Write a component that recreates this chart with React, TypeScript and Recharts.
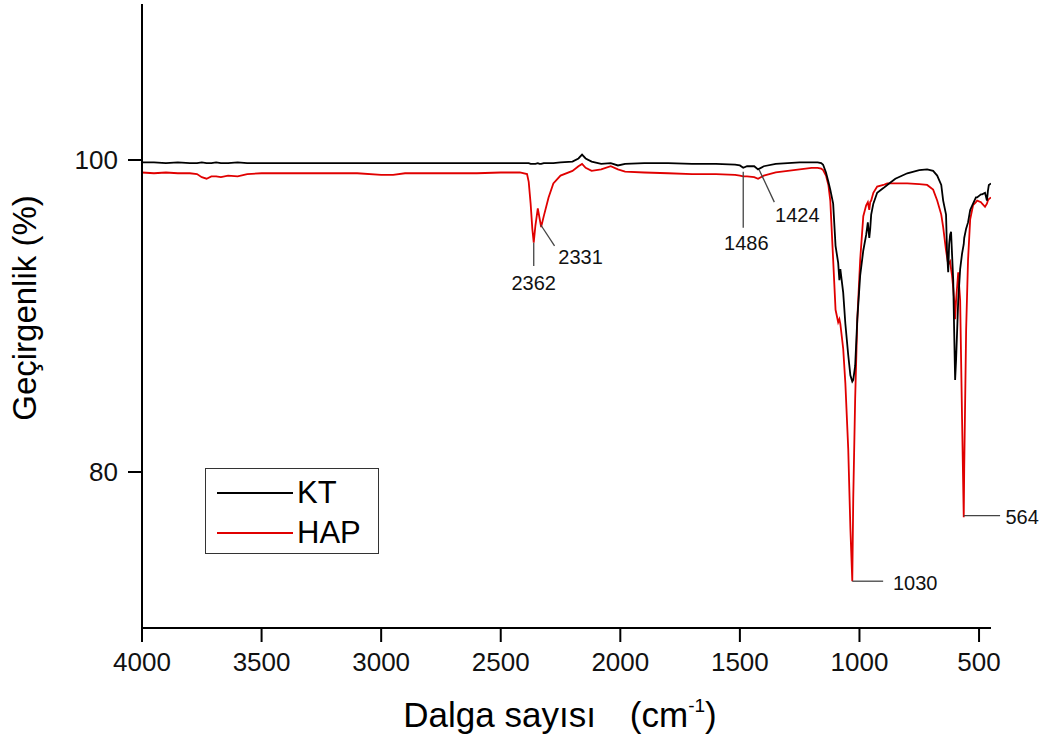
import { LineChart, Line, XAxis, YAxis, ReferenceLine, ReferenceDot } from 'recharts';

// wavenumber (cm-1)
const wavenumbers = [
    4000, 3950, 3900, 3850, 3800, 3770, 3750, 3730, 3710, 3690,
    3670, 3640, 3600, 3560, 3500, 3400, 3300, 3200, 3100, 3000,
    2950, 2900, 2800, 2700, 2600, 2500, 2420, 2390, 2383, 2375,
    2368, 2362, 2355, 2345, 2338, 2331, 2320, 2300, 2280, 2250,
    2200, 2175, 2160, 2145, 2120, 2080, 2040, 2010, 1980, 1900,
    1800, 1700, 1600, 1520, 1500, 1486, 1470, 1440, 1424, 1400,
    1350, 1300, 1250, 1200, 1175,
    1160, 1152, 1140, 1130, 1122, 1110, 1100, 1089, 1084, 1080,
    1068, 1059, 1047, 1038, 1030, 1026, 1018, 1009, 997, 984,
    972, 965, 959, 955, 951, 942, 926, 900, 884, 850,
    800, 750, 717, 692, 675, 658, 650, 638, 634, 629,
    625, 621, 617, 613, 608, 604, 600, 596, 587, 579,
    571, 564, 562, 554, 546, 537, 525, 513, 508, 492,
    487, 475, 467, 463, 459, 450,
];

const ktValues = [
    99.85, 99.85, 99.8, 99.85, 99.8, 99.8, 99.85, 99.8, 99.8, 99.85,
    99.8, 99.8, 99.85, 99.8, 99.8, 99.8, 99.8, 99.8, 99.8, 99.8,
    99.8, 99.8, 99.8, 99.8, 99.8, 99.8, 99.8, 99.8, 99.8, 99.75,
    99.75, 99.75, 99.75, 99.8, 99.75, 99.75, 99.8, 99.8, 99.8, 99.85,
    99.9, 100.1, 100.35, 100.1, 99.9, 99.75, 99.8, 99.65, 99.75, 99.8,
    99.8, 99.75, 99.75, 99.7, 99.65, 99.5, 99.6, 99.6, 99.4, 99.6,
    99.75, 99.8, 99.85, 99.85, 99.85,
    99.8, 99.7, 99.2, 98.6, 98.1, 97.2, 94.5, 93.4, 92.3, 93.0,
    91.5, 89.5, 87.5, 86.2, 85.8, 85.9, 86.8, 89.8, 92.6, 94.2,
    95.2, 96.0, 95.0, 95.6, 96.5, 97.2, 97.9, 98.2, 98.4, 98.8,
    99.15, 99.35, 99.4, 99.3, 99.0, 98.4, 97.4, 96.5, 94.2, 92.8,
    94.6, 95.2, 95.4, 94.0, 92.3, 89.0, 85.9, 87.2, 91.0, 93.0,
    94.0, 94.6, 95.0, 95.6, 96.0, 96.8, 97.2, 97.6, 97.6, 97.8,
    97.8, 97.9, 97.4, 98.0, 98.4, 98.5,
];

const hapValues = [
    99.2, 99.15, 99.2, 99.15, 99.15, 99.1, 98.9, 98.8, 98.95, 98.95,
    98.9, 99.0, 98.95, 99.1, 99.15, 99.15, 99.15, 99.15, 99.15, 99.05,
    99.05, 99.15, 99.15, 99.15, 99.15, 99.2, 99.2, 99.1, 98.6, 97.2,
    95.6, 94.7, 95.8, 96.9, 96.3, 95.7, 96.4, 97.6, 98.5, 99.0,
    99.3, 99.6, 99.75, 99.5, 99.3, 99.4, 99.6, 99.4, 99.25, 99.2,
    99.15, 99.1, 99.1, 99.05, 99.0, 98.95, 98.95, 98.9, 98.8, 99.0,
    99.2, 99.3, 99.4, 99.5, 99.5,
    99.45, 99.35, 99.0, 98.4, 97.4, 93.6, 90.4, 89.6, 89.8, 89.5,
    87.9, 85.7, 81.5, 76.4, 73.0, 78.3, 84.7, 89.8, 93.6, 96.4,
    97.1, 97.3, 96.8, 97.3, 97.4, 97.9, 98.3, 98.4, 98.5, 98.5,
    98.5, 98.45, 98.4, 98.1, 97.4, 96.5, 95.7, 94.2, 93.8, 93.3,
    93.4, 93.5, 93.0, 92.6, 91.8, 91.0, 89.8, 91.0, 92.8, 91.0,
    83.4, 77.1, 80.2, 89.1, 93.6, 96.2, 97.1, 97.3, 97.4, 97.3,
    97.2, 97.0, 97.2, 97.4, 97.5, 97.6,
];

const xTicks = [4000, 3500, 3000, 2500, 2000, 1500, 1000, 500];
const yTicks = [80, 100];

// peak annotations, in data units: leader line start/end and label centre
const peakNames = ['2362', '2331', '1486', '1424', '1030', '564'];
const leaderFrom = [[2362, 94.7], [2333, 95.85], [1486, 99.25], [1419, 99.36], [1030, 73.0], [564, 77.2]];
const leaderTo = [[2362, 93.2], [2275, 94.5], [1486, 95.65], [1356, 97.3], [901, 73.0], [412, 77.2]];
const labelAt = [[2362, 92.1], [2166, 93.8], [1473, 94.7], [1260, 96.5], [767, 72.9], [320, 77.1]];

const data = wavenumbers.map((w, i) => ({ w, kt: ktValues[i], hap: hapValues[i] }));

const FONT = "Arial, 'Liberation Sans', sans-serif";
const RED = '#e00000';

const XTitle = (props: any) => {
    const vb = props.viewBox;
    return (
        <text x={vb.x + 418} y={727} textAnchor="middle" fontFamily={FONT} fontSize={35} fill="#000">
            Dalga sayısı
            <tspan dx={34}>(cm</tspan>
            <tspan dy={-15} fontSize={19}>-1</tspan>
            <tspan dy={15}>)</tspan>
        </text>
    );
};

const YTitle = () => (
    <text
        x={36}
        y={308}
        transform="rotate(-90, 36, 308)"
        textAnchor="middle"
        fontFamily={FONT}
        fontSize={33}
        fill="#000"
    >
        Geçirgenlik (%)
    </text>
);

const legendItems = [
    { name: 'KT', color: '#000' },
    { name: 'HAP', color: RED },
];

export default function App() {
    return (
        <div style={{ position: 'absolute', left: 0, top: 0, width: 1050, height: 747, background: '#fff' }}>
            <LineChart width={1050} height={747} data={data} margin={{ top: 4, right: 59, left: 0, bottom: 0 }}>
                <XAxis
                    dataKey="w"
                    type="number"
                    domain={[450, 4000]}
                    reversed
                    allowDataOverflow
                    ticks={xTicks}
                    interval={0}
                    height={119}
                    tickSize={14}
                    tickMargin={11}
                    axisLine={{ stroke: '#000', strokeWidth: 2 }}
                    tickLine={{ stroke: '#000', strokeWidth: 2 }}
                    tick={{ fill: '#111', fontSize: 26, fontFamily: FONT }}
                    label={{ content: XTitle }}
                />
                <YAxis
                    type="number"
                    domain={[70, 110]}
                    allowDataOverflow
                    ticks={yTicks}
                    interval={0}
                    width={142}
                    tickSize={14}
                    tickMargin={10}
                    axisLine={{ stroke: '#000', strokeWidth: 2 }}
                    tickLine={{ stroke: '#000', strokeWidth: 2 }}
                    tick={{ fill: '#111', fontSize: 26, fontFamily: FONT }}
                    label={{ content: YTitle }}
                />
                <Line
                    type="linear"
                    dataKey="hap"
                    name="HAP"
                    stroke={RED}
                    strokeWidth={1.8}
                    dot={false}
                    isAnimationActive={false}
                />
                <Line
                    type="linear"
                    dataKey="kt"
                    name="KT"
                    stroke="#000"
                    strokeWidth={1.8}
                    dot={false}
                    isAnimationActive={false}
                />
                {peakNames.map((name, i) => (
                    <ReferenceLine
                        key={'l' + name}
                        segment={[
                            { x: leaderFrom[i][0], y: leaderFrom[i][1] },
                            { x: leaderTo[i][0], y: leaderTo[i][1] },
                        ]}
                        stroke="#444"
                        strokeWidth={1.3}
                        ifOverflow="visible"
                    />
                ))}
                {peakNames.map((name, i) => (
                    <ReferenceDot
                        key={'t' + name}
                        x={labelAt[i][0]}
                        y={labelAt[i][1]}
                        r={1}
                        fill="none"
                        stroke="none"
                        ifOverflow="visible"
                        label={{ value: name, position: 'center', fill: '#111', fontSize: 20, fontFamily: FONT }}
                    />
                ))}
            </LineChart>
            <div
                style={{
                    position: 'absolute',
                    left: 205,
                    top: 468,
                    width: 172,
                    height: 84,
                    border: '1px solid #333',
                    fontFamily: FONT,
                }}
            >
                {legendItems.map((item, i) => (
                    <div
                        key={item.name}
                        style={{ position: 'absolute', left: 11, top: 4 + i * 40, height: 40, display: 'flex', alignItems: 'center' }}
                    >
                        <div style={{ width: 76, height: 2, background: item.color }} />
                        <span style={{ marginLeft: 4, fontSize: 31, color: '#000' }}>{item.name}</span>
                    </div>
                ))}
            </div>
        </div>
    );
}
